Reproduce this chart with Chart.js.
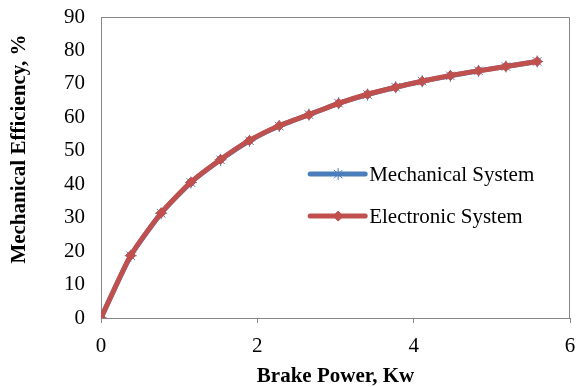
<!DOCTYPE html>
<html>
<head>
<meta charset="utf-8">
<script src="https://cdn.jsdelivr.net/npm/chart.js@4"></script>
<style>
  html, body { margin: 0; padding: 0; background: #fff; }
  #wrap { width: 577px; height: 387px; }
</style>
</head>
<body>
<div id="wrap"><canvas id="effChart" width="577" height="387"></canvas></div>
<script>
// brake power, kW
const brakePower = [0, 0.38, 0.77, 1.15, 1.53, 1.9, 2.28, 2.66, 3.04, 3.41, 3.77, 4.11, 4.47, 4.83, 5.18, 5.58];
// mechanical efficiency, %
const mechanical = [0, 18.6, 31.3, 40.5, 47.3, 53.0, 57.4, 60.8, 64.2, 66.8, 69.0, 70.8, 72.4, 73.9, 75.2, 76.7];
const electronic = [0, 18.7, 31.4, 40.6, 47.4, 53.1, 57.5, 60.8, 64.2, 66.9, 69.0, 70.8, 72.5, 73.9, 75.2, 76.7];
const xTicks = [0, 2, 4, 6];
const yTicks = [0, 10, 20, 30, 40, 50, 60, 70, 80, 90];
const yTitle = 'Mechanical Efficiency, %';

const serif = "'Liberation Serif', 'Times New Roman', serif";
const axisGray = '#868686';

const toPoints = (ys) => ys.map((y, i) => ({ x: brakePower[i], y: y }));

// frame around the plot, y title and legend inside the plot area
const framePlugin = {
  id: 'frame',
  afterDraw(chart) {
    const ctx = chart.ctx;
    const a = chart.chartArea;
    ctx.save();
    ctx.strokeStyle = axisGray;
    ctx.lineWidth = 1;
    ctx.beginPath();
    ctx.moveTo(a.left, a.top + 0.5);
    ctx.lineTo(a.right - 0.5, a.top + 0.5);
    ctx.lineTo(a.right - 0.5, a.bottom);
    ctx.stroke();

    // y axis title (Excel puts it a bit above the plot centre)
    ctx.save();
    ctx.translate(20, 149);
    ctx.rotate(-Math.PI / 2);
    ctx.fillStyle = '#000';
    ctx.font = 'bold 21px ' + serif;
    ctx.textAlign = 'center';
    ctx.textBaseline = 'middle';
    ctx.fillText(yTitle, 0, 0);
    ctx.restore();

    const items = [chart.data.datasets[1], chart.data.datasets[0]];
    const lx = a.left + (a.right - a.left) * 0.446;
    let ly = a.top + (a.bottom - a.top) * 0.522;
    items.forEach((ds) => {
      ctx.strokeStyle = ds.borderColor;
      ctx.lineWidth = 5;
      ctx.lineCap = 'round';
      ctx.beginPath();
      ctx.moveTo(lx, ly);
      ctx.lineTo(lx + 55, ly);
      ctx.stroke();
      ctx.lineCap = 'butt';
      ctx.fillStyle = ds.borderColor;
      ctx.strokeStyle = ds.borderColor;
      ctx.lineWidth = ds.pointBorderWidth;
      Chart.helpers.drawPoint(ctx, {
        pointStyle: ds.pointStyle,
        radius: ds.pointRadius,
        borderWidth: ds.pointBorderWidth
      }, lx + 28, ly);
      ctx.fillStyle = '#000';
      ctx.font = '21px ' + serif;
      ctx.textAlign = 'left';
      ctx.textBaseline = 'middle';
      ctx.fillText(ds.label, lx + 59, ly + 1);
      ly += 42;
    });
    ctx.restore();
  }
};

const ctx = document.getElementById('effChart').getContext('2d');

const effChart = new Chart(ctx, {
  type: 'line',
  data: {
    datasets: [{
      label: 'Electronic System',
      data: toPoints(electronic),
      borderColor: '#c0504d',
      backgroundColor: '#c0504d',
      pointBackgroundColor: '#c0504d',
      pointBorderColor: '#c0504d',
      borderWidth: 5,
      pointStyle: 'rectRot',
      pointRadius: 5,
      pointBorderWidth: 1,
      tension: 0.2,
      order: 0
    }, {
      label: 'Mechanical System',
      data: toPoints(mechanical),
      borderColor: '#4a7ebb',
      backgroundColor: '#4a7ebb',
      pointBackgroundColor: '#4a7ebb',
      pointBorderColor: '#4a7ebb',
      borderWidth: 5,
      pointStyle: 'star',
      pointRadius: 6,
      pointBorderWidth: 1,
      tension: 0.2,
      order: 1
    }]
  },
  options: {
    responsive: false,
    animation: false,
    layout: { padding: { left: 0, right: 5, top: 17, bottom: 0 } },
    plugins: {
      legend: { display: false },
      tooltip: { enabled: false }
    },
    scales: {
      x: {
        type: 'linear',
        min: 0,
        max: 6,
        afterBuildTicks: (axis) => { axis.ticks = xTicks.map((v) => ({ value: v })); },
        afterFit: (axis) => {
          axis.height = 69;
          axis.paddingLeft = 0;
          axis.paddingRight = 0;
        },
        grid: { display: true, drawOnChartArea: false, color: axisGray, tickLength: 5 },
        border: { color: axisGray, width: 1 },
        ticks: { color: '#000', font: { family: serif, size: 21, lineHeight: 1 }, padding: 13 },
        title: {
          display: true,
          text: 'Brake Power, Kw',
          color: '#000',
          font: { family: serif, size: 21, weight: 'bold', lineHeight: 1 },
          padding: { top: 0, bottom: 0 }
        }
      },
      y: {
        min: 0,
        max: 90,
        afterBuildTicks: (axis) => { axis.ticks = yTicks.map((v) => ({ value: v })); },
        afterFit: (axis) => {
          axis.width = 101;
          axis.paddingTop = 0;
          axis.paddingBottom = 0;
        },
        grid: { display: true, drawOnChartArea: false, drawTicks: false, tickLength: 0, color: axisGray },
        border: { color: axisGray, width: 1 },
        ticks: { color: '#000', font: { family: serif, size: 21 }, padding: 16 },
        title: { display: false }
      }
    }
  },
  plugins: [framePlugin]
});
</script>
</body>
</html>
